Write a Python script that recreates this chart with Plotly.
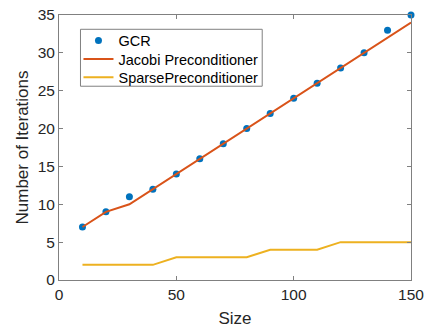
import plotly.graph_objects as go

sizes = [10, 20, 30, 40, 50, 60, 70, 80, 90, 100, 110, 120, 130, 140, 150]
gcr = [7, 9, 11, 12, 14, 16, 18, 20, 22, 24, 26, 28, 30, 33, 35]
jacobi = [7, 9, 10, 12, 14, 16, 18, 20, 22, 24, 26, 28, 30, 32, 34]
sparse = [2, 2, 2, 2, 3, 3, 3, 3, 4, 4, 4, 5, 5, 5, 5]

W, H = 428, 328
L, R, T, B = 58.5, 17, 14.7, 48
pw, ph = W - L - R, H - T - B


def px(x):
    return (x - L) / pw


def py(y):
    return (H - B - y) / ph


fig = go.Figure()
fig.add_trace(go.Scatter(x=sizes, y=gcr, mode="markers", name="GCR", legend="legend",
                         marker=dict(color="#0072BD", size=7), cliponaxis=False))
fig.add_trace(go.Scatter(x=sizes, y=jacobi, mode="lines", name="Jacobi Preconditioner", legend="legend2",
                         line=dict(color="#D95319", width=2)))
fig.add_trace(go.Scatter(x=sizes, y=sparse, mode="lines", name="SparsePreconditioner", legend="legend3",
                         line=dict(color="#EDB120", width=2)))

axis_common = dict(showline=True, linecolor="#808080", linewidth=1, mirror="ticks",
                   ticks="inside", ticklen=4, tickcolor="#808080", showgrid=False,
                   zeroline=False, automargin=False,
                   tickfont=dict(family="Liberation Sans", size=15.5, color="#262626"),
                   title_font=dict(family="Liberation Sans", size=17, color="#262626"))

leg_common = dict(xanchor="left", yanchor="middle", borderwidth=0, bgcolor="rgba(0,0,0,0)",
                  font=dict(family="Liberation Sans", size=14.5, color="#000000"), itemwidth=30)

fig.update_layout(
    template="none",
    width=W, height=H,
    margin=dict(l=L, r=R, t=T, b=B),
    paper_bgcolor="white", plot_bgcolor="white",
    xaxis=dict(range=[0, 150], tickvals=[0, 50, 100, 150], title=dict(text="Size", standoff=12), **axis_common),
    yaxis=dict(range=[0, 35], tickvals=[0, 5, 10, 15, 20, 25, 30, 35],
               title=dict(text="Number of Iterations", standoff=4), **axis_common),
    legend=dict(x=px(78), y=py(40.3), **leg_common),
    legend2=dict(x=px(78), y=py(58.7), **leg_common),
    legend3=dict(x=px(78), y=py(77.2), **leg_common),
    shapes=[dict(type="rect", xref="paper", yref="paper", x0=px(80), x1=px(262), y0=py(86), y1=py(29),
                 line=dict(color="#808080", width=1), fillcolor="white", layer="below")],
    showlegend=True,
)

fig.write_html("out.html")
